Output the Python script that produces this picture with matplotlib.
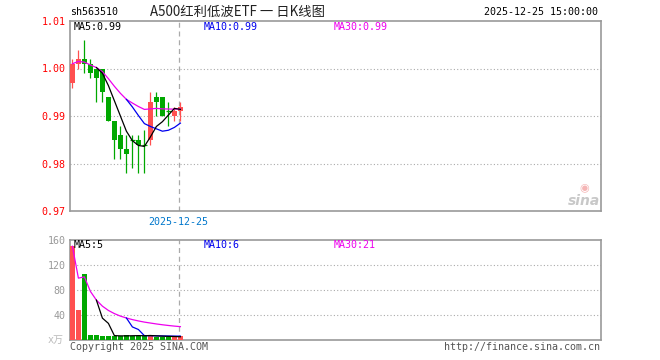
import numpy as np
import pandas as pd
import matplotlib
matplotlib.use("Agg")
import matplotlib.pyplot as plt

plt.rcParams['font.family'] = ['DejaVu Sans Mono', 'Noto Sans CJK SC']

# ---- data ----
opens  = [0.997, 1.001, 1.002, 1.001, 1.000, 1.000, 0.994, 0.989, 0.986, 0.983,
          0.985, 0.985, 0.984, 0.985, 0.994, 0.994, 0.991, 0.990, 0.991]
highs  = [1.002, 1.004, 1.006, 1.002, 1.000, 1.000, 0.994, 0.989, 0.988, 0.986,
          0.986, 0.986, 0.987, 0.995, 0.995, 0.994, 0.993, 0.992, 0.993]
lows   = [0.996, 1.000, 0.999, 0.998, 0.993, 0.993, 0.989, 0.981, 0.981, 0.978,
          0.979, 0.978, 0.978, 0.984, 0.990, 0.990, 0.988, 0.989, 0.989]
closes = [1.001, 1.002, 1.001, 0.999, 0.998, 0.995, 0.989, 0.985, 0.983, 0.982,
          0.985, 0.984, 0.984, 0.993, 0.993, 0.990, 0.991, 0.991, 0.992]
volumes = [150, 48, 105, 8, 8, 6, 6, 7, 6, 8, 7, 7, 6, 8, 5, 5, 5, 5, 6]

price_ticks = [0.97, 0.98, 0.99, 1.00, 1.01]
vol_ticks = [40, 80, 120, 160]
date_label = "2025-12-25"
date_pos = 17.7
slots = 88.1

code = "sh563510"
title = "A500红利低波ETF 一 日K线图"
stamp = "2025-12-25 15:00:00"

RED = '#ff5050'
GREEN = '#00a800'
C_MA5, C_MA10, C_MA30 = '#000000', '#0000ee', '#ee00ee'
GRID = '#aaaaaa'
BORDER = '#999999'

o = np.array(opens); h = np.array(highs); l = np.array(lows); c = np.array(closes)
v = np.array(volumes, dtype=float)
n = len(c)
x = np.arange(n)
up = c > o
colors = [RED if u else GREEN for u in up]

cs = pd.Series(c)
ma5 = cs.rolling(5).mean()
ma10 = cs.rolling(10).mean()
ma30 = cs.expanding().mean()
vs = pd.Series(v)
vma5 = vs.rolling(5).mean()
vma10 = vs.rolling(10).mean()
vma30 = vs.expanding().mean()

W, H = 660, 360
fig = plt.figure(figsize=(W / 100, H / 100), dpi=100)
def fx(px): return px / W
def fy(py): return 1 - py / H

ax = fig.add_axes([fx(70), fy(211), (601 - 70) / W, (211 - 21) / H])
axv = fig.add_axes([fx(70), fy(340), (601 - 70) / W, (340 - 240) / H])

# ---- price panel ----
ax.vlines(x, l, h, colors=colors, linewidth=0.9, zorder=3)
body_b = np.minimum(o, c)
body_h = np.abs(c - o)
ax.bar(x, body_h, bottom=body_b, width=0.8, color=colors, linewidth=0, zorder=4)
doji = body_h == 0
ax.hlines(c[doji], x[doji] - 0.4, x[doji] + 0.4, colors=[colors[i] for i in np.where(doji)[0]],
          linewidth=0.9, zorder=4)
ax.plot(x, ma30, color=C_MA30, lw=0.9, zorder=5)
ax.plot(x, ma10, color=C_MA10, lw=0.9, zorder=5)
ax.plot(x, ma5, color=C_MA5, lw=0.9, zorder=5)

ax.set_xlim(-0.4, slots)
ax.set_ylim(price_ticks[0], price_ticks[-1])
ax.set_yticks(price_ticks)
ax.set_yticklabels([f"{t:.2f}" for t in price_ticks])
ax.tick_params(axis='y', length=0, pad=3, labelcolor='#ff0000', labelsize=7.2)
ax.set_xticks([date_pos])
ax.set_xticklabels([date_label])
ax.tick_params(axis='x', length=0, pad=4, labelcolor='#0077cc', labelsize=7.2)
for yv in price_ticks[1:-1]:
    ax.axhline(yv, color=GRID, ls=(0, (1, 2)), lw=0.8, zorder=1)
ax.axvline(date_pos, color=GRID, ls=(0, (4, 3)), lw=0.9, zorder=1)

# ---- volume panel ----
axv.bar(x, v, width=0.8, color=colors, linewidth=0, zorder=3)
axv.plot(x, vma30, color=C_MA30, lw=0.9, zorder=5)
axv.plot(x, vma10, color=C_MA10, lw=0.9, zorder=5)
axv.plot(x, vma5, color=C_MA5, lw=0.9, zorder=5)
axv.set_xlim(-0.4, slots)
axv.set_ylim(0, vol_ticks[-1])
axv.set_yticks(vol_ticks)
axv.set_yticklabels([str(t) for t in vol_ticks])
axv.tick_params(axis='y', length=0, pad=3, labelcolor='#999999', labelsize=7.2)
axv.set_xticks([])
for yv in vol_ticks[:-1]:
    axv.axhline(yv, color=GRID, ls=(0, (1, 2)), lw=0.8, zorder=1)
axv.axvline(date_pos, color=GRID, ls=(0, (4, 3)), lw=0.9, zorder=1)

for a in (ax, axv):
    for s in a.spines.values():
        s.set_color(BORDER)
        s.set_linewidth(1.2)

# ---- texts ----
fs = 7.2
fig.text(fx(70), fy(12), code, fontsize=fs, color='black', va='center')
fig.text(fx(150), fy(12), title, fontsize=9.6, color='#222222', va='center',
         family=['Noto Sans CJK SC', 'DejaVu Sans'])
fig.text(fx(598), fy(12), stamp, fontsize=fs, color='black', va='center', ha='right')

fig.text(fx(74), fy(27), f"MA5:{ma5.iloc[-1]:.2f}", fontsize=fs, color=C_MA5, va='center')
fig.text(fx(204), fy(27), f"MA10:{ma10.iloc[-1]:.2f}", fontsize=fs, color=C_MA10, va='center')
fig.text(fx(334), fy(27), f"MA30:{ma30.iloc[-1]:.2f}", fontsize=fs, color=C_MA30, va='center')

fig.text(fx(74), fy(245), f"MA5:{vma5.iloc[-1]:.0f}", fontsize=fs, color=C_MA5, va='center')
fig.text(fx(204), fy(245), f"MA10:{vma10.iloc[-1]:.0f}", fontsize=fs, color=C_MA10, va='center')
fig.text(fx(334), fy(245), f"MA30:{vma30.iloc[-1]:.0f}", fontsize=fs, color=C_MA30, va='center')

fig.text(fx(64), fy(340), "x万", fontsize=fs, color='#bbbbbb', va='center', ha='right',
         family=['DejaVu Sans Mono', 'Noto Sans CJK SC'])

fig.text(fx(70), fy(347), "Copyright 2025 SINA.COM", fontsize=fs, color='#555555', va='center')
fig.text(fx(600), fy(347), "http://finance.sina.com.cn", fontsize=fs, color='#555555',
         va='center', ha='right')

# watermark
fig.text(fx(584), fy(201), "sina", fontsize=10, color='#c8c8c8', va='center', ha='center',
         family='DejaVu Sans', style='italic', weight='bold')
fig.text(fx(584), fy(188), "◉", fontsize=8, color='#f5b5b5', va='center', ha='center',
         family='DejaVu Sans')

fig.savefig("out.png", dpi=100)
